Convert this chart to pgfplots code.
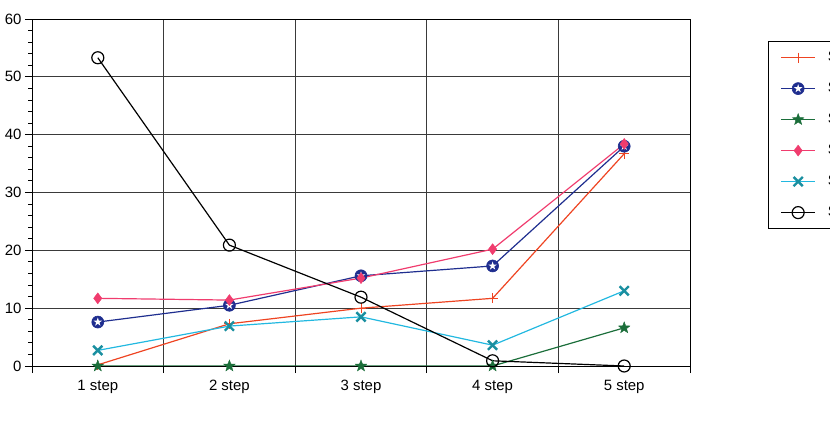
\documentclass[border=0pt]{standalone}
\usepackage{pgfplots}
\pgfplotsset{compat=1.18}
\usepackage{fontspec}
\setmainfont{Liberation Sans}
\definecolor{cred}{HTML}{EE4422}
\definecolor{cnavy}{HTML}{1F2E8F}
\definecolor{cgreen}{HTML}{1B6E3A}
\definecolor{cpink}{HTML}{F03C6E}
\definecolor{ccyan}{HTML}{22B8E0}
\definecolor{cteal}{HTML}{1A8FA0}
\definecolor{cgrid}{HTML}{3A3A3A}
\pgfdeclareplotmark{circstar}{%
  \pgfpathcircle{\pgfpointorigin}{\pgfplotmarksize}\pgfusepathqfillstroke
  \pgfscope
  \pgfsetfillcolor{white}%
  \pgfpathmoveto{\pgfpointpolar{90}{0.75\pgfplotmarksize}}%
  \pgfpathlineto{\pgfpointpolar{234}{0.75\pgfplotmarksize}}%
  \pgfpathlineto{\pgfpointpolar{18}{0.75\pgfplotmarksize}}%
  \pgfpathlineto{\pgfpointpolar{162}{0.75\pgfplotmarksize}}%
  \pgfpathlineto{\pgfpointpolar{306}{0.75\pgfplotmarksize}}%
  \pgfpathclose\pgfusepathqfill
  \endpgfscope
}
\pgfdeclareplotmark{fstar}{%
  \pgfpathmoveto{\pgfpointpolar{90}{\pgfplotmarksize}}%
  \pgfpathlineto{\pgfpointpolar{126}{0.42\pgfplotmarksize}}%
  \pgfpathlineto{\pgfpointpolar{162}{\pgfplotmarksize}}%
  \pgfpathlineto{\pgfpointpolar{198}{0.42\pgfplotmarksize}}%
  \pgfpathlineto{\pgfpointpolar{234}{\pgfplotmarksize}}%
  \pgfpathlineto{\pgfpointpolar{270}{0.42\pgfplotmarksize}}%
  \pgfpathlineto{\pgfpointpolar{306}{\pgfplotmarksize}}%
  \pgfpathlineto{\pgfpointpolar{342}{0.42\pgfplotmarksize}}%
  \pgfpathlineto{\pgfpointpolar{18}{\pgfplotmarksize}}%
  \pgfpathlineto{\pgfpointpolar{54}{0.42\pgfplotmarksize}}%
  \pgfpathclose\pgfusepathqfillstroke
}
\begin{document}
\begin{tikzpicture}
\begin{axis}[
  at={(0,0)}, anchor=south west,
  scale only axis, width=658bp, height=347bp,
  xmin=0.5, xmax=5.5, ymin=0, ymax=60,
  xtick={0.5,1.5,...,5.5}, xticklabels={},
  extra x ticks={1,2,3,4,5},
  extra x tick labels={1 step,2 step,3 step,4 step,5 step},
  extra x tick style={major tick length=0pt, grid=none, xticklabel style={yshift=-11bp}},
  ytick={0,10,...,60},
  minor y tick num=4,
  xmajorgrids, ymajorgrids,
  grid style={cgrid, line width=0.9pt},
  axis line style={black, line width=1pt},
  tick style={black, line width=0.9pt},
  major tick length=7bp, minor tick length=3.5bp,
  tick align=outside,
  xtick pos=bottom, ytick pos=left,
  tick label style={font=\fontsize{15}{18}\selectfont},
  /pgf/number format/assume math mode=true,
  legend cell align=left,
  legend image code/.code={\draw[mark repeat=2,mark phase=2] plot coordinates {(0bp,0bp)(17bp,0bp)(34bp,0bp)};},
  legend style={at={(1.1185,0.9366)}, anchor=north west,
    draw=black, line width=1.2pt, inner xsep=12bp, inner ysep=9bp,
    font=\fontsize{15}{18}\selectfont, row sep=17bp, column sep=12bp,
    nodes={text height=11bp, text depth=3bp, inner sep=0pt}},
]
\addplot[cred, line width=1.2pt, mark=+, mark size=5bp, mark options={line width=1pt}] coordinates {(1,0.2)(2,7.3)(3,10.0)(4,11.7)(5,36.7)};
\addlegendentry{Series 1}
\addplot[cnavy, line width=1.2pt, mark=circstar, mark size=6bp, mark options={fill=cnavy, line width=0.6pt}] coordinates {(1,7.6)(2,10.5)(3,15.6)(4,17.3)(5,38.0)};
\addlegendentry{Series 2}
\addplot[cgreen, line width=1.2pt, mark=fstar, mark size=6bp, mark options={fill=cgreen, line width=0.4pt}] coordinates {(1,0)(2,0)(3,0)(4,0)(5,6.6)};
\addlegendentry{Series 3}
\addplot[cpink, line width=1.2pt, mark=diamond*, mark size=5.5bp, mark options={fill=cpink, line width=0.4pt}] coordinates {(1,11.7)(2,11.4)(3,15.2)(4,20.2)(5,38.4)};
\addlegendentry{Series 4}
\addplot[ccyan, line width=1.2pt, mark=x, mark size=6.5bp, mark options={cteal, line width=2.4pt}] coordinates {(1,2.7)(2,6.9)(3,8.5)(4,3.6)(5,13.0)};
\addlegendentry{Series 5}
\addplot[black, line width=1.2pt, mark=o, mark size=6bp, mark options={line width=1.2pt}] coordinates {(1,53.3)(2,20.9)(3,11.9)(4,0.9)(5,0)};
\addlegendentry{Series 6}
\end{axis}
\pgfresetboundingbox
\useasboundingbox (-32bp,-56bp) rectangle (798bp,366bp);
\end{tikzpicture}
\end{document}
